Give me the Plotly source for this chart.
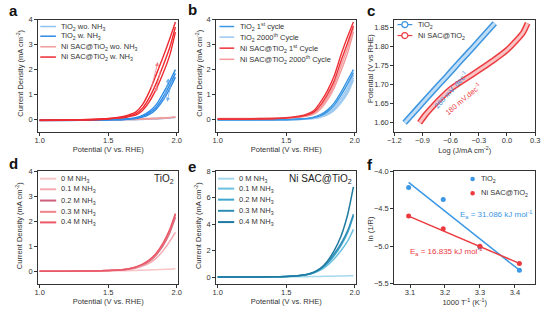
import plotly.graph_objects as go

# ---------------- data ----------------
V = [1.0, 1.2, 1.4, 1.5, 1.6, 1.65, 1.7, 1.75, 1.8, 1.85, 1.9, 1.95, 1.99]

# panel a
a_tio2_wo_1 = [0.0, 0.0, 0.0, 0.005, 0.01, 0.015, 0.02, 0.03, 0.04, 0.05, 0.065, 0.08, 0.1]
a_tio2_wo_2 = [-0.02, -0.02, -0.02, -0.015, -0.01, -0.005, 0.0, 0.01, 0.02, 0.03, 0.045, 0.06, 0.08]
a_ni_wo_1 = [0.0, 0.0, 0.005, 0.01, 0.02, 0.025, 0.03, 0.04, 0.05, 0.06, 0.075, 0.09, 0.12]
a_ni_wo_2 = [-0.02, -0.02, -0.015, -0.01, 0.0, 0.005, 0.01, 0.02, 0.03, 0.04, 0.055, 0.07, 0.09]
a_tio2_w_1 = [-0.02, -0.02, -0.01, 0.0, 0.02, 0.04, 0.08, 0.17, 0.33, 0.6, 1.05, 1.55, 2.0]
a_tio2_w_2 = [-0.02, -0.02, -0.01, 0.0, 0.01, 0.03, 0.06, 0.13, 0.27, 0.5, 0.9, 1.4, 1.85]
a_tio2_w_3 = [-0.03, -0.03, -0.02, -0.01, 0.0, 0.02, 0.04, 0.1, 0.21, 0.42, 0.78, 1.25, 1.7]
a_ni_w_1 = [-0.02, -0.01, 0.02, 0.05, 0.12, 0.19, 0.3, 0.6, 1.12, 1.8, 2.5, 3.25, 3.9]
a_ni_w_2 = [-0.02, -0.01, 0.01, 0.04, 0.09, 0.15, 0.23, 0.46, 0.88, 1.45, 2.15, 2.9, 3.7]
a_ni_w_3 = [-0.03, -0.02, 0.0, 0.03, 0.07, 0.12, 0.18, 0.37, 0.72, 1.22, 1.85, 2.6, 3.5]

# panel b
b_tio2_1st_1 = [0.0, 0.0, 0.0, 0.01, 0.03, 0.05, 0.1, 0.2, 0.38, 0.67, 1.1, 1.6, 2.0]
b_tio2_1st_2 = [0.0, 0.0, 0.0, 0.0, 0.02, 0.04, 0.08, 0.16, 0.32, 0.58, 0.98, 1.45, 1.88]
b_tio2_2000_1 = [0.0, 0.0, 0.0, 0.01, 0.02, 0.04, 0.07, 0.14, 0.28, 0.5, 0.85, 1.3, 1.78]
b_tio2_2000_2 = [-0.01, -0.01, 0.0, 0.0, 0.01, 0.03, 0.05, 0.11, 0.23, 0.43, 0.75, 1.18, 1.68]
b_tio2_2000_3 = [-0.01, -0.01, -0.01, 0.0, 0.01, 0.02, 0.04, 0.09, 0.19, 0.37, 0.67, 1.08, 1.58]
b_ni_1st_1 = [0.03, 0.03, 0.05, 0.08, 0.15, 0.22, 0.35, 0.7, 1.15, 1.75, 2.6, 3.35, 3.9]
b_ni_1st_2 = [0.02, 0.02, 0.04, 0.06, 0.12, 0.18, 0.3, 0.58, 1.0, 1.55, 2.35, 3.1, 3.75]
b_ni_2000_1 = [0.05, 0.05, 0.06, 0.07, 0.11, 0.16, 0.26, 0.5, 0.88, 1.4, 2.15, 2.9, 3.65]
b_ni_2000_2 = [0.04, 0.04, 0.05, 0.06, 0.1, 0.14, 0.22, 0.43, 0.78, 1.27, 1.95, 2.7, 3.5]

# panel c (Tafel)
c_tio2_logj = [-1.09, -0.95, -0.8, -0.65, -0.5, -0.35, -0.2, -0.13]
c_tio2_e = [1.60, 1.638, 1.679, 1.719, 1.76, 1.80, 1.841, 1.86]
c_ni_logj = [-0.93, -0.87, -0.78, -0.68, -0.6, -0.45, -0.3, -0.15, 0.0, 0.1, 0.17, 0.22]
c_ni_e = [1.60, 1.62, 1.645, 1.67, 1.688, 1.713, 1.737, 1.762, 1.79, 1.815, 1.835, 1.86]

# panel d (TiO2, NH3 concentration)
conc_labels = ["0 M NH<sub>3</sub>", "0.1 M NH<sub>3</sub>", "0.2 M NH<sub>3</sub>",
               "0.3 M NH<sub>3</sub>", "0.4 M NH<sub>3</sub>"]
d_0 = [0.0, 0.0, 0.0, 0.01, 0.02, 0.02, 0.03, 0.04, 0.05, 0.06, 0.07, 0.08, 0.1]
d_01 = [0.0, 0.0, 0.01, 0.02, 0.05, 0.08, 0.12, 0.2, 0.32, 0.52, 0.82, 1.2, 1.55]
d_02 = [0.0, 0.0, 0.01, 0.03, 0.05, 0.09, 0.15, 0.25, 0.4, 0.65, 1.02, 1.55, 2.15]
d_03 = [0.0, 0.0, 0.01, 0.03, 0.06, 0.1, 0.16, 0.27, 0.43, 0.69, 1.08, 1.62, 2.25]
d_04 = [0.0, 0.0, 0.01, 0.03, 0.06, 0.1, 0.17, 0.28, 0.45, 0.72, 1.12, 1.68, 2.3]

# panel e (Ni SAC@TiO2, NH3 concentration)
e_0 = [0.0, 0.0, 0.0, 0.01, 0.02, 0.03, 0.04, 0.05, 0.06, 0.07, 0.08, 0.09, 0.1]
e_01 = [0.0, 0.0, 0.02, 0.04, 0.1, 0.17, 0.3, 0.52, 0.88, 1.38, 2.0, 2.75, 3.6]
e_02 = [0.0, 0.0, 0.02, 0.05, 0.11, 0.19, 0.33, 0.6, 1.02, 1.62, 2.4, 3.4, 4.6]
e_03 = [0.0, 0.0, 0.02, 0.05, 0.12, 0.2, 0.36, 0.65, 1.1, 1.75, 2.55, 3.55, 4.75]
e_04 = [0.0, 0.0, 0.02, 0.05, 0.12, 0.2, 0.35, 0.65, 1.2, 2.0, 3.1, 4.8, 6.8]

# panel f (Arrhenius)
f_invT = [3.096, 3.195, 3.300, 3.413]
f_tio2 = [-4.22, -4.38, -5.01, -5.32]
f_ni = [-4.60, -4.77, -5.00, -5.23]
f_fit_x = [3.096, 3.413]
f_tio2_fit = [-4.15, -5.32]
f_ni_fit = [-4.60, -5.23]

# ---------------- style ----------------
FONT = "Liberation Sans, Arial, sans-serif"
TXT = "#333333"
W, H = 546, 312
COLS = [(32, 175), (214, 357), (396, 540)]
ROWS = [(16, 132), (172, 288)]

BLUE, LBLUE = "#2E8BE6", "#90C2EE"
RED, PINK = "#EE2A30", "#F29C9C"
D_COLS = ["#F7C4C7", "#F5AAB0", "#CC5F7A", "#F0838B", "#EB5867"]
E_COLS = ["#A3D8EC", "#6CC0E0", "#40A6CD", "#2F8DB5", "#1F7AA1"]

fig = go.Figure()


def ax(n):
    return ("x" if n == 1 else f"x{n}"), ("y" if n == 1 else f"y{n}")


def line(n, x, y, color, width=1.4):
    xa, ya = ax(n)
    fig.add_trace(go.Scatter(x=x, y=y, mode="lines", xaxis=xa, yaxis=ya,
                             line=dict(color=color, width=width, shape="spline", smoothing=0.6),
                             showlegend=False, hoverinfo="skip"))


# panel a
for yy in (a_tio2_wo_1, a_tio2_wo_2):
    line(1, V, yy, LBLUE)
for yy in (a_ni_wo_1, a_ni_wo_2):
    line(1, V, yy, PINK)
for yy in (a_tio2_w_1, a_tio2_w_2, a_tio2_w_3):
    line(1, V, yy, BLUE)
for yy in (a_ni_w_1, a_ni_w_2, a_ni_w_3):
    line(1, V, yy, RED)

# panel b
for yy in (b_tio2_2000_1, b_tio2_2000_2, b_tio2_2000_3):
    line(2, V, yy, "#9CC8F0")
for yy in (b_tio2_1st_1, b_tio2_1st_2):
    line(2, V, yy, "#3A97E3")
for yy in (b_ni_2000_1, b_ni_2000_2):
    line(2, V, yy, "#F49A9C")
for yy in (b_ni_1st_1, b_ni_1st_2):
    line(2, V, yy, "#EC3238")

# panel c: tube-like bands (hollow circle markers in original)
for xx, yy, dark, light in ((c_tio2_logj, c_tio2_e, "#3D95DF", "#BFDDF6"),
                            (c_ni_logj, c_ni_e, "#EC3B40", "#FAC3C3")):
    line(3, xx, yy, dark, 6)
    line(3, xx, yy, light, 3)

# panel d
for yy, col in zip((d_0, d_01, d_02, d_03, d_04), D_COLS):
    line(4, V, yy, col, 1.5)
# panel e
for yy, col in zip((e_0, e_01, e_02, e_03, e_04), E_COLS):
    line(5, V, yy, col, 1.5)

# panel f
for fit, pts, col in ((f_tio2_fit, f_tio2, "#3C97E4"), (f_ni_fit, f_ni, "#EC3A3F")):
    fig.add_trace(go.Scatter(x=f_fit_x, y=fit, mode="lines", xaxis="x6", yaxis="y6",
                             line=dict(color=col, width=1.5), showlegend=False, hoverinfo="skip"))
    fig.add_trace(go.Scatter(x=f_invT, y=pts, mode="markers", xaxis="x6", yaxis="y6",
                             marker=dict(color=col, size=5), showlegend=False, hoverinfo="skip"))

# ---------------- axes ----------------
axis_common = dict(showline=True, linecolor="#333333", linewidth=1, mirror=True,
                   ticks="outside", ticklen=3, tickwidth=1, tickcolor="#333333",
                   showgrid=False, zeroline=False,
                   tickfont=dict(family=FONT, size=7.5, color=TXT),
                   title_font=dict(family=FONT, size=7.5, color=TXT))

specs = {
    1: dict(xr=[0.99, 2.01], yr=[-0.5, 4.0], xt="Potential (V vs. RHE)",
            yt="Current Density (mA cm<sup>-2</sup>)", xdt=0.5, ydt=1, xf=".1f", yf="d"),
    2: dict(xr=[0.99, 2.01], yr=[-0.5, 4.0], xt="Potential (V vs. RHE)",
            yt="Current Density (mA cm<sup>-2</sup>)", xdt=0.5, ydt=1, xf=".1f", yf="d"),
    3: dict(xr=[-1.2, 0.3], yr=[1.575, 1.87], xt="Log (J/mA cm<sup>-2</sup>)",
            yt="Potential (V vs RHE)", xdt=0.3, ydt=0.05, xf=".1f", yf=".2f"),
    4: dict(xr=[0.99, 2.01], yr=[-0.5, 4.0], xt="Potential (V vs. RHE)",
            yt="Current Density (mA cm<sup>-2</sup>)", xdt=0.5, ydt=1, xf=".1f", yf="d"),
    5: dict(xr=[0.99, 2.01], yr=[-0.5, 8.0], xt="Potential (V vs. RHE)",
            yt="Current Density (mA cm<sup>-2</sup>)", xdt=0.5, ydt=2, xf=".1f", yf="d"),
    6: dict(xr=[3.055, 3.458], yr=[-5.5, -4.0], xt="1000 T<sup>-1</sup> (K<sup>-1</sup>)",
            yt="ln (1/R)", xdt=0.1, ydt=0.5, xf=".1f", yf=".1f"),
}
x0s = {1: 1.0, 2: 1.0, 3: -1.2, 4: 1.0, 5: 1.0, 6: 3.1}
y0s = {1: 0, 2: 0, 3: 1.6, 4: 0, 5: 0, 6: -5.5}
# y-title centre positions (px)
ytitle_pos = {1: (13, 71), 2: (196, 71), 3: (371, 66), 4: (13, 228), 5: (196, 228), 6: (371, 231)}

layout_axes = {}
annos = []
for n in range(1, 7):
    r, c = (n - 1) // 3, (n - 1) % 3
    s = specs[n]
    xa, ya = ax(n)
    xkey = "xaxis" if n == 1 else f"xaxis{n}"
    ykey = "yaxis" if n == 1 else f"yaxis{n}"
    layout_axes[xkey] = dict(axis_common, domain=[COLS[c][0] / W, COLS[c][1] / W], anchor=ya,
                             range=s["xr"], dtick=s["xdt"], tick0=x0s[n], tickformat=s["xf"],
                             ticklabelstandoff=-2,
                             title=dict(text=s["xt"], standoff=0))
    layout_axes[ykey] = dict(axis_common, domain=[1 - ROWS[r][1] / H, 1 - ROWS[r][0] / H], anchor=xa,
                             range=s["yr"], dtick=s["ydt"], tick0=y0s[n], tickformat=s["yf"])
    tx, ty = ytitle_pos[n]
    annos.append(dict(xref="paper", yref="paper", x=tx / W, y=1 - ty / H, text=s["yt"],
                      textangle=-90, showarrow=False, xanchor="center", yanchor="middle",
                      font=dict(family=FONT, size=7.5, color=TXT)))

fig.update_layout(**layout_axes)

# ---------------- legends (manual, compact) ----------------
shapes = []


def dref(n):
    xa, ya = ax(n)
    return xa + " domain", ya + " domain"


def leg_lines(n, items, x0, x1, xt, ys, width=1.5):
    xr, yr = dref(n)
    for (lab, col), y in zip(items, ys):
        shapes.append(dict(type="line", xref=xr, yref=yr, x0=x0, x1=x1, y0=y, y1=y,
                           line=dict(color=col, width=width)))
        annos.append(dict(xref=xr, yref=yr, x=xt, y=y, text=lab, showarrow=False,
                          xanchor="left", yanchor="middle", font=dict(family=FONT, size=7.5, color=TXT)))


leg_lines(1, [("TiO<sub>2</sub> wo. NH<sub>3</sub>", LBLUE), ("TiO<sub>2</sub> w. NH<sub>3</sub>", BLUE),
              ("Ni SAC@TiO<sub>2</sub> wo. NH<sub>3</sub>", PINK), ("Ni SAC@TiO<sub>2</sub> w. NH<sub>3</sub>", RED)],
          0.014, 0.126, 0.147, [0.938, 0.852, 0.758, 0.667])
leg_lines(2, [("TiO<sub>2</sub> 1<sup>st</sup> cycle", "#3A97E3"),
              ("TiO<sub>2</sub> 2000<sup>th</sup> Cycle", "#9CC8F0"),
              ("Ni SAC@TiO<sub>2</sub> 1<sup>st</sup> Cycle", "#EC3238"),
              ("Ni SAC@TiO<sub>2</sub> 2000<sup>th</sup> Cycle", "#F49A9C")],
          0.023, 0.128, 0.152, [0.938, 0.844, 0.746, 0.647])
leg_lines(4, list(zip(conc_labels, D_COLS)), 0.012, 0.128, 0.147, [0.932, 0.838, 0.738, 0.638, 0.544], 2)
leg_lines(5, list(zip(conc_labels, E_COLS)), 0.012, 0.128, 0.147, [0.932, 0.844, 0.746, 0.647, 0.547], 2)

# panel c legend: line + open circle
xr3, yr3 = dref(3)
for lab, col, y in (("TiO<sub>2</sub>", "#3D95DF", 0.955), ("Ni SAC@TiO<sub>2</sub>", "#EC3B40", 0.858)):
    shapes.append(dict(type="line", xref=xr3, yref=yr3, x0=0.023, x1=0.128, y0=y, y1=y,
                       line=dict(color=col, width=1.2)))
    shapes.append(dict(type="circle", xref=xr3, yref=yr3, xsizemode="pixel", ysizemode="pixel",
                       xanchor=0.075, yanchor=y, x0=-3, x1=3, y0=-3, y1=3,
                       fillcolor="white", line=dict(color=col, width=1.2)))
    annos.append(dict(xref=xr3, yref=yr3, x=0.152, y=y, text=lab, showarrow=False,
                      xanchor="left", yanchor="middle", font=dict(family=FONT, size=7.5, color=TXT)))

# panel f legend: dots
xr6, yr6 = dref(6)
for lab, col, y in (("TiO<sub>2</sub>", "#3C97E4", 0.929), ("Ni SAC@TiO<sub>2</sub>", "#EC3A3F", 0.803)):
    shapes.append(dict(type="circle", xref=xr6, yref=yr6, xsizemode="pixel", ysizemode="pixel",
                       xanchor=0.556, yanchor=y, x0=-2.3, x1=2.3, y0=-2.3, y1=2.3,
                       fillcolor=col, line=dict(color=col, width=0)))
    annos.append(dict(xref=xr6, yref=yr6, x=0.602, y=y, text=lab, showarrow=False,
                      xanchor="left", yanchor="middle", font=dict(family=FONT, size=7.5, color=TXT)))

# in-plot texts
annos.append(dict(xref="x4 domain", yref="y4 domain", x=0.985, y=0.93, text="TiO<sub>2</sub>",
                  showarrow=False, xanchor="right", yanchor="middle", font=dict(family=FONT, size=10, color="#222")))
annos.append(dict(xref="x5 domain", yref="y5 domain", x=0.985, y=0.93, text="Ni SAC@TiO<sub>2</sub>",
                  showarrow=False, xanchor="right", yanchor="middle", font=dict(family=FONT, size=10, color="#222")))
annos.append(dict(xref="x3", yref="y3", x=-0.60, y=1.685, text="260 mV. dec<sup>-1</sup>", textangle=-48,
                  showarrow=False, font=dict(family=FONT, size=7.5, color="#3D95DF")))
annos.append(dict(xref="x3", yref="y3", x=-0.47, y=1.662, text="180 mV.dec<sup>-1</sup>", textangle=-40,
                  showarrow=False, font=dict(family=FONT, size=7.5, color="#EC3B40")))
annos.append(dict(xref="x6", yref="y6", x=3.238, y=-4.58, text="E<sub>a</sub> = 31.086 kJ mol<sup>-1</sup>",
                  showarrow=False, xanchor="left", font=dict(family=FONT, size=8, color="#3C97E4")))
annos.append(dict(xref="x6", yref="y6", x=3.093, y=-5.07, text="E<sub>a</sub> = 16.835 kJ mol<sup>-1</sup>",
                  showarrow=False, xanchor="left", font=dict(family=FONT, size=8, color="#EC3A3F")))

# scan direction arrows in panel a
for (tx, ty, hx, hy, col) in ((1.81, 1.15, 1.862, 2.3, "#F07C80"), (1.885, 2.05, 1.845, 1.1, "#F07C80"),
                              (1.905, 0.72, 1.94, 1.65, "#72AEEA"), (1.965, 1.6, 1.93, 0.72, "#72AEEA")):
    annos.append(dict(xref="x", yref="y", axref="x", ayref="y", x=hx, y=hy, ax=tx, ay=ty, text="",
                      showarrow=True, arrowhead=2, arrowsize=1, arrowwidth=0.8, arrowcolor=col))

# panel letters
for lab, px, py in (("a", 0, 7), ("b", 183, 6), ("c", 366, 7), ("d", 0, 164), ("e", 183, 167), ("f", 366, 165)):
    annos.append(dict(xref="paper", yref="paper", x=px / W, y=1 - py / H, text=f"<b>{lab}</b>",
                      showarrow=False, xanchor="left", yanchor="middle",
                      font=dict(family=FONT, size=15, color="#111")))

fig.update_layout(width=W, height=H, margin=dict(l=0, r=0, t=0, b=0),
                  paper_bgcolor="white", plot_bgcolor="white",
                  shapes=shapes, annotations=annos, showlegend=False,
                  font=dict(family=FONT, size=7.5, color=TXT))

fig.write_html("out.html")
